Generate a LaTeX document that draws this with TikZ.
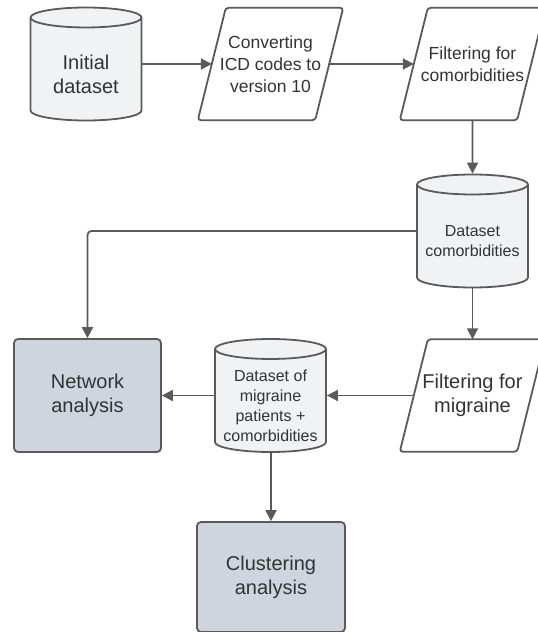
\documentclass[tikz,border=0pt]{standalone}
\usepackage{fontspec}
\setmainfont{Liberation Sans}
\usetikzlibrary{positioning,arrows.meta,shapes.geometric}
\definecolor{edgegray}{HTML}{5A5A5A}
\definecolor{textgray}{HTML}{333333}
\definecolor{dbfill}{HTML}{F1F2F4}
\definecolor{taskfill}{HTML}{CFD5DE}
\tikzset{
	>={Triangle[length=11pt,width=11pt]}
}
% slanted frame round an io node
\newcommand{\ioframe}[1]{
	\draw[ioline] ([xshift=14pt]#1.north west) -- ([xshift=14pt]#1.north east)
		-- ([xshift=-14pt]#1.south east) -- ([xshift=-14pt]#1.south west) -- cycle;
}

\begin{document}
\begin{tikzpicture}[
x = 1pt, y = 1pt,
every node/.style = {
	text = textgray,
	align = center
},
big/.style = {
	font = \fontsize{20}{24}\selectfont
},
mid/.style = {
	font = \fontsize{17.5}{22}\selectfont
},
small/.style = {
	font = \fontsize{16}{20}\selectfont
},
db/.style = {
	draw = edgegray,
	line width = 1.8pt,
	fill = dbfill,
	cylinder,
	shape border rotate = 90,
	aspect = 0.18,
	minimum width = 111pt,
	minimum height = 113pt,
	inner sep = 0pt,
	anchor = shape center
},
io/.style = {
	minimum width = 117pt,
	minimum height = 112pt,
	inner sep = 0pt
},
ioline/.style = {
	draw = edgegray,
	line width = 1.8pt,
	rounded corners = 3pt
},
task/.style = {
	draw = edgegray,
	line width = 1.8pt,
	fill = taskfill,
	rounded corners = 4pt,
	minimum width = 147pt,
	minimum height = 113pt
},
flow/.style = {
	->,
	draw = edgegray,
	line width = 1.8pt
}
]
\useasboundingbox (0,0) rectangle (538,-632);

\node [db] (init) at (86,-64) {\hspace*{111pt}};
\node [big] (inittext) at ([yshift=-10pt]init.shape center) {Initial\\dataset};
\node [io, mid] (conv) at (270.5,-64) {Converting\\ICD codes to\\version 10};
\ioframe{conv}
\node [io, mid] (filtc) at (472.5,-64) {Filtering for\\comorbidities};
\ioframe{filtc}

\node [db] (datac) at (472.5,-231) {\hspace*{111pt}};
\node [small] (datactext) at ([yshift=-10pt]datac.shape center) {Dataset\\comorbidities};

\node [task, big] (network) at (87.5,-395.5) {Network\\analysis};
\node [db] (migr) at (270.5,-395.5) {\hspace*{111pt}};
\node [small] (migrtext) at ([yshift=-10pt]migr.shape center) {Dataset of\\migraine\\patients +\\comorbidities};
\node [io, big] (filtm) at (472.5,-395.5) {Filtering for\\migraine};
\ioframe{filtm}

\node [task, big, minimum width=148pt, minimum height=110pt] (clust) at (271,-577) {Clustering\\analysis};

\draw[flow] (init.east |- init.shape center) -- (conv.west);
\draw[flow] (conv) -- (filtc);
\draw[flow] (filtc.south) -- (datac.north);
\draw[flow, rounded corners=4pt] (datac.west |- datac.shape center) -| (network.north);
\draw[flow] (datac.south) -- (filtm.north);
\draw[flow] (filtm.west) -- (migr.east |- filtm.west);
\draw[flow] (migr.west |- network.east) -- (network.east);
\draw[flow] (migr.south -| clust.north) -- (clust);

\end{tikzpicture}
\end{document}
